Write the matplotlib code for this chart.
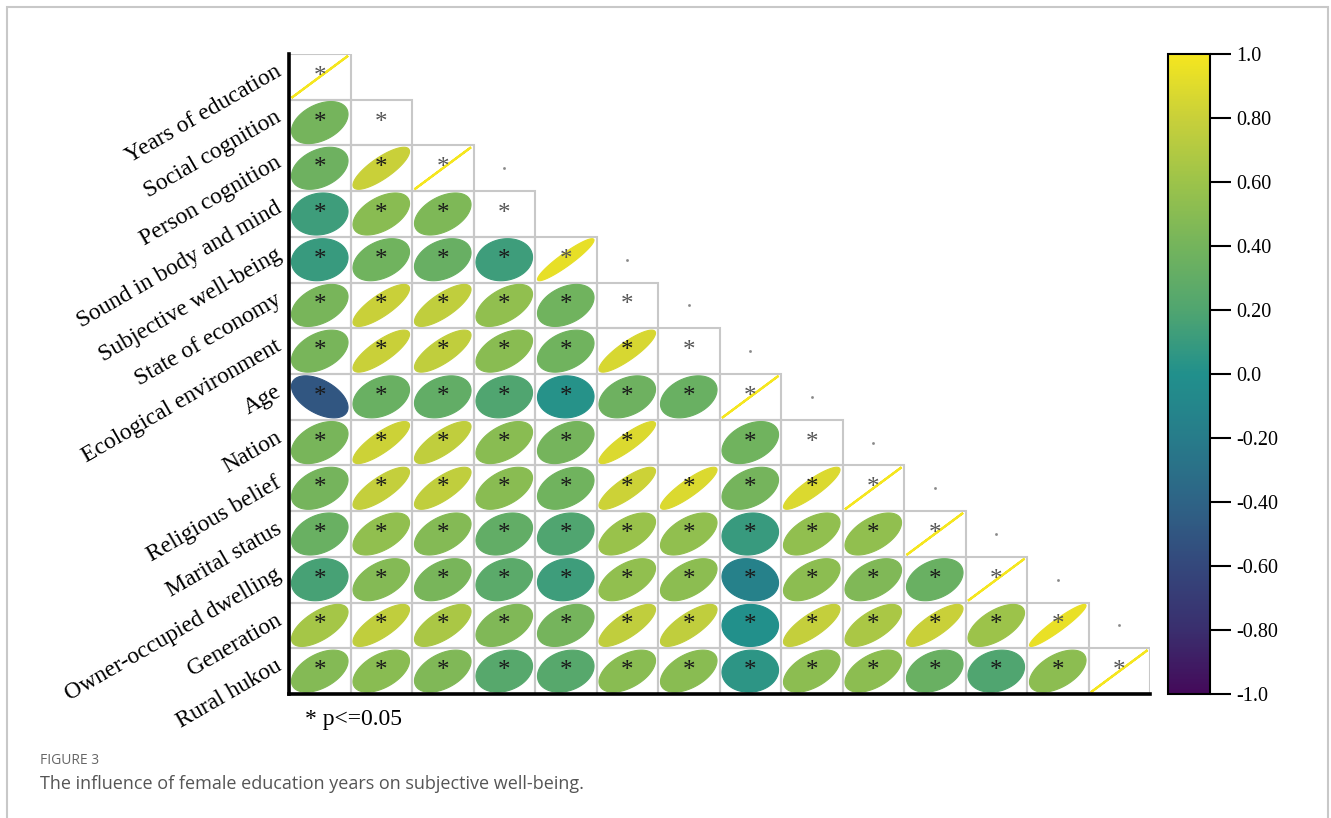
import numpy as np
import matplotlib
matplotlib.use("Agg")
import matplotlib.pyplot as plt
from matplotlib.patches import Polygon, Rectangle
from matplotlib.colors import Normalize, LinearSegmentedColormap
from matplotlib.cm import ScalarMappable

nan = np.nan

variables = [
    "Years of education", "Social cognition", "Person cognition",
    "Sound in body and mind", "Subjective well-being", "State of economy",
    "Ecological environment", "Age", "Nation", "Religious belief",
    "Marital status", "Owner-occupied dwelling", "Generation", "Rural hukou",
]

# lower triangle incl. diagonal, nan = no ellipse drawn
corr_rows = [
    [1.0],
    [0.40, nan],
    [0.36, 0.80, 1.0],
    [0.12, 0.50, 0.45, nan],
    [0.10, 0.38, 0.33, 0.12, 0.93],
    [0.42, 0.80, 0.76, 0.54, 0.38, nan],
    [0.42, 0.80, 0.76, 0.50, 0.38, 0.86, nan],
    [-0.50, 0.34, 0.30, 0.20, 0.02, 0.36, 0.34, 1.0],
    [0.42, 0.82, 0.76, 0.50, 0.40, 0.88, nan, 0.38, nan],
    [0.40, 0.78, 0.76, 0.50, 0.38, 0.82, 0.88, 0.40, 0.88, 1.0],
    [0.34, 0.54, 0.48, 0.30, 0.20, 0.58, 0.54, 0.10, 0.54, 0.54, 1.0],
    [0.16, 0.48, 0.42, 0.26, 0.12, 0.54, 0.52, -0.15, 0.52, 0.46, 0.34, 1.0],
    [0.64, 0.76, 0.66, 0.46, 0.40, 0.76, 0.76, 0.00, 0.78, 0.66, 0.80, 0.60, 0.94],
    [0.48, 0.50, 0.46, 0.24, 0.24, 0.50, 0.50, 0.05, 0.52, 0.52, 0.34, 0.20, 0.52, 1.0],
]

# cells without a significance star (row, col)
no_star = [(8, 6)]
# rows with the tiny dot just right of the diagonal
dot_rows = [2, 4, 5, 6, 7, 8, 9, 10, 11, 12]

cb_ticks = [1.0, 0.8, 0.6, 0.4, 0.2, 0.0, -0.2, -0.4, -0.6, -0.8, -1.0]
cb_labels = ["1.0", "0.80", "0.60", "0.40", "0.20", "0.0",
             "-0.20", "-0.40", "-0.60", "-0.80", "-1.0"]

# colour ramp as seen on the figure's legend, from -1 to 1
ramp = ["#440a5a", "#3a2f6e", "#34487c", "#2e6486", "#277c8a", "#21908c",
        "#50a570", "#74b45c", "#9cc34a", "#c8d03a", "#f5e61f"]

SERIF = "Liberation Serif"
W, H = 1331, 818


def ellipse_xy(r, cx, cy, s=0.46):
    d = np.arccos(np.clip(r, -1, 1))
    t = np.linspace(0, 2 * np.pi, 120)
    return np.column_stack([cx + s * np.cos(t + d / 2), cy - s * np.cos(t - d / 2)])


fig = plt.figure(figsize=(W / 100, H / 100), dpi=100)
ax = fig.add_axes([289 / W, 1 - 694 / H, (1150 - 289) / W, (694 - 54) / H])
ax.set_xlim(0, 14)
ax.set_ylim(14, 0)

cmap = LinearSegmentedColormap.from_list("corr", ramp)
norm = Normalize(-1, 1)

for i, row in enumerate(corr_rows):
    for j, r in enumerate(row):
        ax.add_patch(Rectangle((j, i), 1, 1, fill=False, ec="#c8c8c8", lw=1.5, zorder=1))
        if not np.isnan(r):
            c = cmap(norm(r))
            if r >= 0.999:
                ax.add_patch(Polygon(ellipse_xy(r, j + 0.5, i + 0.5), closed=True,
                                     fill=False, ec=c, lw=1.6, zorder=2))
            else:
                ax.add_patch(Polygon(ellipse_xy(r, j + 0.5, i + 0.5), closed=True,
                                     fc=c, ec=c, lw=0.8, zorder=2))
        if (i, j) in no_star:
            continue
        star_col = "#555555" if i == j else "#1a1a1a"
        ax.text(j + 0.5, i + 0.5, "*", ha="center", va="center", fontsize=18,
                family=SERIF, color=star_col, zorder=3)

for i in dot_rows:
    ax.plot(i + 1.5, i + 0.5, marker="s", ms=0.9, color="#888888", zorder=3)

for s in ["top", "right"]:
    ax.spines[s].set_visible(False)
for s in ["left", "bottom"]:
    ax.spines[s].set_linewidth(2.6)
    ax.spines[s].set_color("black")
    ax.spines[s].set_zorder(5)
ax.set_xticks([])
ax.set_yticks([])

for i, name in enumerate(variables):
    ax.text(-0.15, i + 0.35, name, rotation=30, rotation_mode="anchor",
            ha="right", va="center", fontsize=17, family=SERIF, color="black")

# colorbar
cax = fig.add_axes([1168 / W, 1 - 694 / H, (1210 - 1168) / W, (694 - 54) / H])
cb = fig.colorbar(ScalarMappable(norm=norm, cmap=cmap), cax=cax)
cb.set_ticks(cb_ticks)
cb.set_ticklabels(cb_labels)
cb.outline.set_linewidth(1.5)
cax.tick_params(length=15, width=1.5, pad=4, labelsize=14.5)
for lab in cax.get_yticklabels():
    lab.set_family(SERIF)

fig.text(305 / W, 1 - 720 / H, "* p<=0.05", ha="left", va="center",
         fontsize=17, family=SERIF)
fig.text(40 / W, 1 - 761 / H, "FIGURE 3", ha="left", va="center",
         fontsize=10, family="Open Sans", color="#666666")
fig.text(40 / W, 1 - 784 / H,
         "The influence of female education years on subjective well-being.",
         ha="left", va="center", fontsize=13, family="Open Sans", color="#555555")

# page frame
fig.add_artist(Rectangle((7 / W, -0.1), (1328 - 7) / W, 1.1 - 7 / H,
                         transform=fig.transFigure, fill=False, ec="#c8c8c8", lw=1.5))

fig.savefig("out.png", dpi=100)
